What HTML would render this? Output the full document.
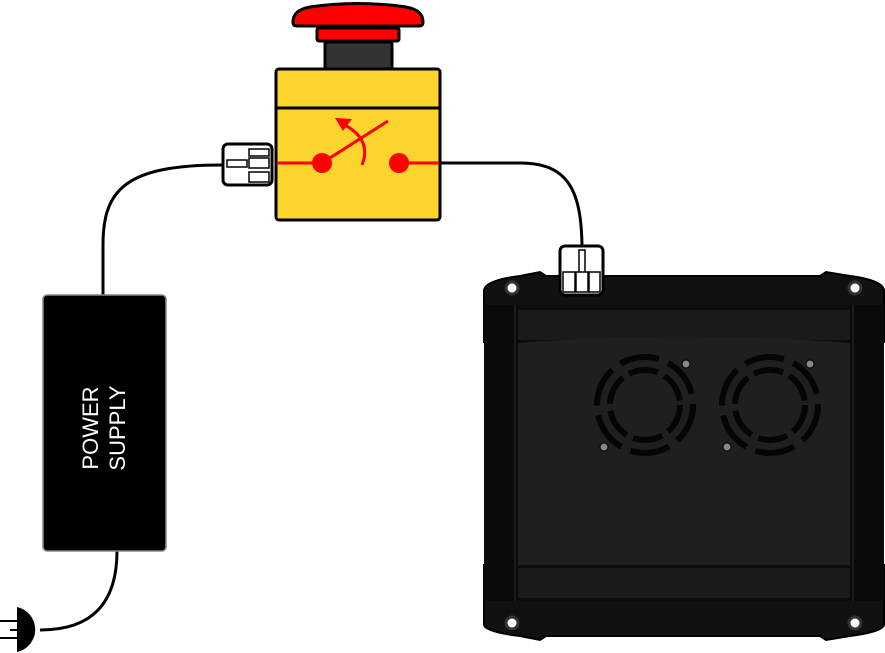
<!DOCTYPE html>
<html><head><meta charset="utf-8"><style>html,body{margin:0;padding:0;background:#fff}svg{display:block}</style></head>
<body>
<svg width="885" height="653" viewBox="0 0 885 653" xmlns="http://www.w3.org/2000/svg">
<path d="M40,630 C95,630 117,600 117,551" fill="none" stroke="#000" stroke-width="3"/>
<path d="M103,296 L103,245 C103,190 125,165 222,165" fill="none" stroke="#000" stroke-width="3"/>
<path d="M440,163 L520,163 C568,163 582,190 582,250" fill="none" stroke="#000" stroke-width="3"/>
<path d="M17,607 A23,23 0 0 1 17,652 Z" fill="#000"/>
<line x1="0" y1="621" x2="17" y2="621" stroke="#000" stroke-width="2"/>
<line x1="10" y1="630" x2="17" y2="630" stroke="#000" stroke-width="2"/>
<line x1="0" y1="638" x2="17" y2="638" stroke="#000" stroke-width="2"/>
<rect x="43" y="295" width="123" height="256" rx="4" fill="#000" stroke="#888" stroke-width="1.5"/>
<text transform="translate(104,428) rotate(-90)" text-anchor="middle" fill="#fff" font-family="Liberation Sans, sans-serif" font-size="22"><tspan x="0" y="-6">POWER</tspan><tspan x="0" y="21">SUPPLY</tspan></text>
<rect x="223" y="144" width="49" height="41" rx="5" fill="#fff" stroke="#000" stroke-width="3"/>
<rect x="227" y="160" width="20" height="7" fill="#fff" stroke="#000" stroke-width="1.5"/>
<rect x="249" y="149" width="20" height="7" fill="#fff" stroke="#000" stroke-width="1.5"/>
<rect x="249" y="158" width="20" height="10" fill="#fff" stroke="#000" stroke-width="1.5"/>
<rect x="249" y="172" width="20" height="10" fill="#fff" stroke="#000" stroke-width="1.5"/>
<path d="M293,22 Q293,10 310,7 Q358,0 406,7 Q423,10 423,22 Q423,26 419,26 L297,26 Q293,26 293,22 Z" fill="#f00" stroke="#000" stroke-width="3"/>
<rect x="317" y="28" width="82" height="13" rx="2" fill="#f00" stroke="#000" stroke-width="3"/>
<rect x="325" y="42" width="67" height="27" rx="2" fill="#333" stroke="#000" stroke-width="3"/>
<rect x="276" y="69" width="164" height="151" rx="3" fill="#fdd32d" stroke="#000" stroke-width="3"/>
<line x1="276" y1="108" x2="440" y2="108" stroke="#000" stroke-width="3"/>
<line x1="277" y1="163" x2="322" y2="163" stroke="#f00" stroke-width="3"/>
<line x1="399" y1="163" x2="439" y2="163" stroke="#f00" stroke-width="3"/>
<circle cx="322" cy="163" r="10" fill="#f00"/>
<circle cx="399" cy="163" r="10" fill="#f00"/>
<line x1="322" y1="163" x2="388" y2="121" stroke="#f00" stroke-width="3"/>
<path d="M362,165 Q372,140 345,125" fill="none" stroke="#f00" stroke-width="3"/>
<path d="M335,118 L352,119 L343,131 Z" fill="#f00"/>
<path d="M484,290 Q486,280 520,276 L540,272 L546,276 L820,276 L826,272 L850,276 Q882,280 884,290 L884,342 L876,342 L876,565 L884,565 L884,625 Q882,632 850,636 L826,640 L820,636 L546,636 L540,640 L520,636 Q486,632 484,625 L484,565 L492,565 L492,342 L484,342 Z" fill="#111" stroke="#000" stroke-width="2"/>
<rect x="484" y="305" width="400" height="38" fill="#0d0d0d"/>
<rect x="518" y="310" width="332" height="30" fill="#1a1a1a"/>
<path d="M518,343 Q684,330 850,343 L850,565 Q684,578 518,565 Z" fill="#1f1f1f"/>
<rect x="484" y="565" width="400" height="36" fill="#0d0d0d"/>
<rect x="518" y="568" width="332" height="30" fill="#1a1a1a"/>
<rect x="484" y="305" width="34" height="296" fill="#0a0a0a"/>
<rect x="850" y="305" width="34" height="296" fill="#0a0a0a"/>
<line x1="515" y1="305" x2="515" y2="601" stroke="#2a2a2a" stroke-width="1"/>
<line x1="853" y1="305" x2="853" y2="601" stroke="#2a2a2a" stroke-width="1"/>
<g fill="#fff" stroke="#333" stroke-width="3">
<circle cx="512" cy="288" r="6"/><circle cx="855" cy="288" r="6"/>
<circle cx="512" cy="623" r="6"/><circle cx="855" cy="623" r="6"/>
</g>
<g fill="none" stroke="#050505">
<circle cx="645" cy="405" r="48" stroke-width="6" stroke-dasharray="40 10"/>
<circle cx="645" cy="405" r="35" stroke-width="6" stroke-dasharray="30 7"/>
<circle cx="770" cy="405" r="48" stroke-width="6" stroke-dasharray="40 10"/>
<circle cx="770" cy="405" r="35" stroke-width="6" stroke-dasharray="30 7"/>
</g>
<g fill="#888" stroke="#000" stroke-width="1">
<circle cx="686" cy="364" r="4"/><circle cx="604" cy="447" r="4"/>
<circle cx="810" cy="364" r="4"/><circle cx="727" cy="447" r="4"/>
</g>
<rect x="560" y="246" width="43" height="49" rx="5" fill="#fff" stroke="#000" stroke-width="3"/>
<rect x="579" y="250" width="6" height="23" fill="#fff" stroke="#000" stroke-width="1.5"/>
<rect x="563" y="272" width="12" height="20" fill="#fff" stroke="#000" stroke-width="1.5"/>
<rect x="576" y="272" width="12" height="20" fill="#fff" stroke="#000" stroke-width="1.5"/>
<rect x="589" y="272" width="11" height="20" fill="#fff" stroke="#000" stroke-width="1.5"/>
</svg>
</body></html>
